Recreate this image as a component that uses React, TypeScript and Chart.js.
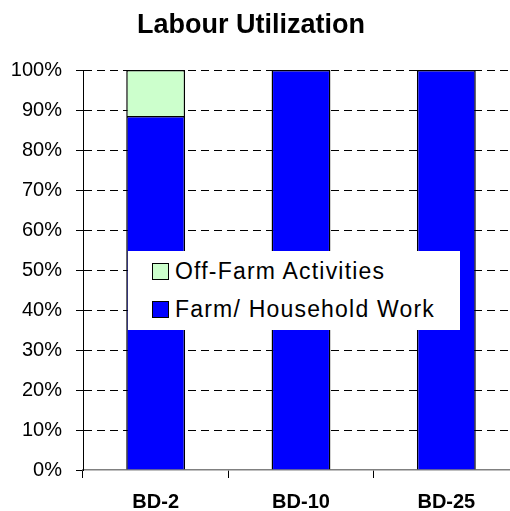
import React, { useEffect, useRef } from "react";
import { Chart, registerables } from "chart.js";

Chart.register(...registerables);

const titleText = "Labour Utilization";
const categories = ["BD-2", "BD-10", "BD-25"];
const farmHousehold = [88.5, 100, 100];
const offFarm = [11.5, 0, 0];
const seriesLabels = ["Farm/ Household Work", "Off-Farm Activities"];
const seriesColors = ["#0000FF", "#CCFFCC"];
const yTicks = [0, 10, 20, 30, 40, 50, 60, 70, 80, 90, 100];

const FONT = '"Liberation Sans", Arial, sans-serif';

const titlePlugin = {
  id: "manualTitle",
  afterDraw(chart: any) {
    const ctx = chart.ctx;
    ctx.save();
    ctx.font = `bold 27px ${FONT}`;
    ctx.fillStyle = "#000";
    ctx.textAlign = "center";
    ctx.textBaseline = "alphabetic";
    ctx.fillText(titleText, 251, 33);
    ctx.restore();
  },
};

export default function App() {
  const ref = useRef<HTMLCanvasElement>(null);

  useEffect(() => {
    document.body.style.overflow = "hidden";
    const chart = new Chart(ref.current!, {
      type: "bar",
      data: {
        labels: categories,
        datasets: [
          {
            label: seriesLabels[0],
            data: farmHousehold,
            backgroundColor: seriesColors[0],
            borderColor: "#000",
            borderWidth: 1.5,
            categoryPercentage: 1,
            barPercentage: 0.405,
          },
          {
            label: seriesLabels[1],
            data: offFarm,
            backgroundColor: seriesColors[1],
            borderColor: "#000",
            borderWidth: 1.5,
            categoryPercentage: 1,
            barPercentage: 0.405,
          },
        ],
      },
      options: {
        responsive: false,
        animation: false,
        layout: { padding: { top: 70, right: 11, left: 0, bottom: 0 } },
        plugins: {
          legend: { display: false },
          title: { display: false },
          tooltip: { enabled: false },
        },
        scales: {
          x: {
            stacked: true,
            offset: true,
            grid: {
              display: true,
              offset: true,
              drawOnChartArea: false,
              drawTicks: true,
              tickLength: 8,
              tickColor: "#000",
              lineWidth: 1,
            },
            border: { display: true, color: "#808080", width: 1.5 },
            ticks: {
              color: "#000",
              font: { family: FONT, size: 20, weight: "bold" },
              padding: 12,
              maxRotation: 0,
            },
            afterFit: (s: any) => {
              s.height = 41;
            },
          },
          y: {
            stacked: true,
            min: 0,
            max: 100,
            afterBuildTicks: (s: any) => {
              s.ticks = yTicks.map((v) => ({ value: v }));
            },
            grid: {
              color: (c: any) => (c.tick && c.tick.value === 0 ? "rgba(0,0,0,0)" : "#000"),
              lineWidth: 1,
              tickLength: 7,
              tickColor: "#000",
              tickBorderDash: [],
            },
            border: { display: true, color: "#000", width: 1, dash: [8, 5] },
            ticks: {
              color: "#000",
              font: { family: FONT, size: 20 },
              padding: 14,
              callback: (v: any) => `${v}%`,
            },
            afterFit: (s: any) => {
              s.width = 83;
            },
          },
        },
      },
      plugins: [titlePlugin],
    } as any);
    return () => chart.destroy();
  }, []);

  const legendItems = [
    { label: seriesLabels[1], color: seriesColors[1] },
    { label: seriesLabels[0], color: seriesColors[0] },
  ];

  return (
    <div
      style={{
        position: "fixed",
        left: 0,
        top: 0,
        width: 510,
        height: 511,
        overflow: "hidden",
        background: "#fff",
      }}
    >
      <canvas ref={ref} width={530} height={511} style={{ display: "block" }} />
      <div
        style={{
          position: "absolute",
          left: 128,
          top: 251,
          width: 332,
          height: 79,
          background: "#fff",
          fontFamily: FONT,
          fontSize: 23,
          letterSpacing: "1.2px",
          color: "#000",
        }}
      >
        {legendItems.map((it, i) => (
          <div
            key={it.label}
            style={{
              position: "absolute",
              left: 24,
              top: 8 + i * 38,
              height: 24,
              display: "flex",
              alignItems: "center",
              whiteSpace: "nowrap",
            }}
          >
            <span
              style={{
                display: "inline-block",
                width: 15,
                height: 15,
                border: "1.5px solid #000",
                background: it.color,
                marginRight: 6,
              }}
            />
            <span style={{ lineHeight: "24px" }}>{it.label}</span>
          </div>
        ))}
      </div>
    </div>
  );
}
